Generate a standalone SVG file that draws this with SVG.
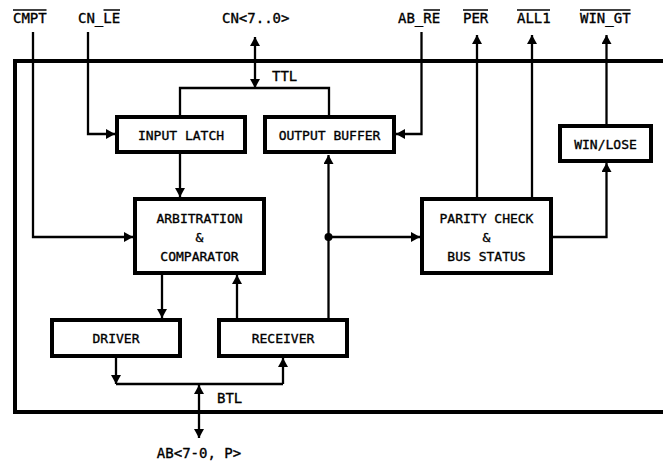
<svg xmlns="http://www.w3.org/2000/svg" width="663" height="463" viewBox="0 0 663 463">
<style>
.bg{fill:#fff}
.box{fill:#fff;stroke:#000;stroke-width:4}
.frame{fill:none;stroke:#000;stroke-width:4}
.ln{fill:none;stroke:#000;stroke-width:2.3}
.arr{marker-end:url(#ah)}
.bi{marker-start:url(#ah);marker-end:url(#ah)}
.bar{stroke:#000;stroke-width:1.5}
text{font-family:"DejaVu Sans Mono","Liberation Mono",monospace;fill:#000;stroke:#000;stroke-width:0.35}
.lb{font-size:14px}
.bt{font-size:13px;text-anchor:middle}
</style>
<defs>
<marker id="ah" markerUnits="userSpaceOnUse" markerWidth="11" markerHeight="11" refX="9" refY="5" orient="auto-start-reverse">
<path d="M0,0 L9,5 L0,10 Z" fill="#000"/>
</marker>
</defs>
<rect class="bg" x="0" y="0" width="663" height="463"/>
<path class="frame" d="M665,61 H15 V412 H665"/>

<g id="connectors">
<path class="ln arr" d="M33,32 V237 H133"/>
<path class="ln arr" d="M88,32 V134 H115"/>
<path class="ln bi" d="M255,37 V88"/>
<path class="ln" d="M180,115 V88 H329 V115"/>
<path class="ln arr" d="M421.5,32 V134 H396"/>
<path class="ln arr" d="M477,197 V35"/>
<path class="ln arr" d="M532,197 V35"/>
<path class="ln arr" d="M606.5,124 V35"/>
<path class="ln arr" d="M180,154 V197"/>
<path class="ln arr" d="M328.5,237 V155"/>
<path class="ln arr" d="M328.5,237 H420"/>
<path class="ln" d="M328.5,237 V318"/>
<circle cx="328.5" cy="237" r="4" fill="#000"/>
<path class="ln arr" d="M162,275 V318"/>
<path class="ln arr" d="M237,318 V275"/>
<path class="ln arr" d="M553,237 H606.5 V163"/>
<path class="ln arr" d="M116,358 V384"/>
<path class="ln" d="M116,384 H283"/>
<path class="ln arr" d="M283,384 V358"/>
<path class="ln bi" d="M199,385 V438"/>
</g>

<g id="input-latch">
<rect class="box" x="117" y="117" width="128" height="35"/>
<text class="bt" x="181" y="139.5">INPUT LATCH</text>
</g>
<g id="output-buffer">
<rect class="box" x="265" y="117" width="129" height="35"/>
<text class="bt" x="329.5" y="139.5">OUTPUT BUFFER</text>
</g>
<g id="arbitration">
<rect class="box" x="135" y="199" width="129" height="74"/>
<text class="bt" x="199.5" y="223">ARBITRATION</text>
<text class="bt" x="199.5" y="241.5">&amp;</text>
<text class="bt" x="199.5" y="260.5">COMPARATOR</text>
</g>
<g id="parity">
<rect class="box" x="422" y="199" width="129" height="74"/>
<text class="bt" x="486.5" y="223">PARITY CHECK</text>
<text class="bt" x="486.5" y="241.5">&amp;</text>
<text class="bt" x="486.5" y="260.5">BUS STATUS</text>
</g>
<g id="win-lose">
<rect class="box" x="560" y="126" width="91" height="35"/>
<text class="bt" x="605.5" y="148.5">WIN/LOSE</text>
</g>
<g id="driver">
<rect class="box" x="52" y="320" width="128" height="36"/>
<text class="bt" x="116" y="343">DRIVER</text>
</g>
<g id="receiver">
<rect class="box" x="219" y="320" width="128" height="36"/>
<text class="bt" x="283" y="343">RECEIVER</text>
</g>

<g id="labels">
<text class="lb" x="13" y="23">CMPT</text>
<line class="bar" x1="13" y1="10" x2="46.5" y2="10"/>
<text class="lb" x="78" y="23">CN_LE</text>
<line class="bar" x1="103.5" y1="10" x2="120" y2="10"/>
<text class="lb" x="222" y="23">CN&lt;7..0&gt;</text>
<text class="lb" x="398" y="23">AB_RE</text>
<line class="bar" x1="423.5" y1="10" x2="440" y2="10"/>
<text class="lb" x="463" y="23">PER</text>
<line class="bar" x1="463" y1="10" x2="488" y2="10"/>
<text class="lb" x="517" y="23">ALL1</text>
<line class="bar" x1="517" y1="10" x2="550" y2="10"/>
<text class="lb" x="580" y="23">WIN_GT</text>
<line class="bar" x1="580" y1="10" x2="630.5" y2="10"/>
<text class="lb" x="272" y="80.5">TTL</text>
<text class="lb" x="217" y="403">BTL</text>
<text class="lb" x="199" y="458" text-anchor="middle">AB&lt;7-0, P&gt;</text>
</g>
</svg>
